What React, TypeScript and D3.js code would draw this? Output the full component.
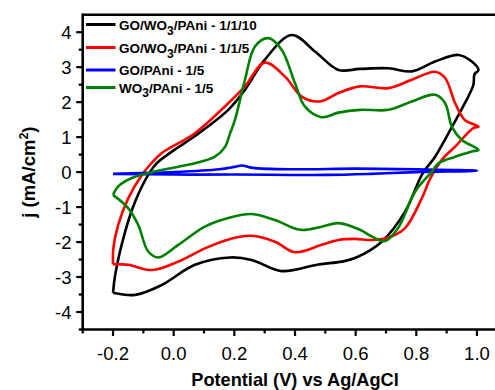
import React from "react";
import * as d3 from "d3";

// [potential (V), current density (mA/cm2)] along each closed CV loop
const loop1110: [number, number][] = [
  [-0.2, -3.45], [-0.193, -2.94], [-0.16, -1.7], [-0.127, -0.84], [-0.084, -0.08], [-0.056, 0.25],
  [0.0, 0.62], [0.07, 1.03], [0.18, 1.78], [0.235, 2.35], [0.3, 3.21], [0.389, 3.92], [0.466, 3.45],
  [0.543, 2.92], [0.614, 2.95], [0.708, 2.97], [0.785, 2.88], [0.862, 3.16], [0.939, 3.35], [0.983, 3.16],
  [1.005, 2.92], [0.992, 2.8], [0.988, 2.49], [0.96, 1.97], [0.906, 1.11], [0.862, 0.44], [0.82, -0.05],
  [0.763, -1.13], [0.686, -1.99], [0.6, -2.45], [0.554, -2.56], [0.477, -2.64], [0.356, -2.83],
  [0.257, -2.51], [0.186, -2.44], [0.07, -2.65], [-0.04, -3.23], [-0.127, -3.51], [-0.2, -3.45],
];
const loop115: [number, number][] = [
  [-0.2, -2.63], [-0.199, -2.18], [-0.183, -1.51], [-0.15, -0.75], [-0.105, -0.08], [-0.078, 0.21],
  [-0.04, 0.54], [0.07, 1.11], [0.18, 1.97], [0.235, 2.45], [0.3, 3.13], [0.367, 2.73], [0.422, 2.16],
  [0.482, 2.02], [0.543, 2.26], [0.614, 2.45], [0.708, 2.4], [0.785, 2.64], [0.862, 2.87], [0.895, 2.69],
  [0.928, 1.97], [0.96, 1.49], [1.005, 1.3], [0.988, 1.26], [0.928, 0.73], [0.884, 0.35], [0.845, -0.2],
  [0.818, -0.75], [0.763, -1.6], [0.708, -1.87], [0.653, -1.94], [0.598, -1.91], [0.543, -1.94],
  [0.488, -2.08], [0.4, -2.29], [0.334, -1.99], [0.257, -1.82], [0.186, -1.91], [0.103, -2.18],
  [0.015, -2.56], [-0.072, -2.8], [-0.15, -2.65], [-0.2, -2.63],
];
const loopGO: [number, number][] = [
  [-0.2, -0.05], [0.0, 0.0], [0.15, 0.08], [0.2, 0.15], [0.225, 0.19], [0.26, 0.12], [0.4, 0.08],
  [0.6, 0.1], [0.8, 0.08], [1.0, 0.04], [0.8, 0.0], [0.65, -0.05], [0.5, -0.08], [0.2, -0.07],
  [0.0, -0.07], [-0.2, -0.05],
];
const loopWO: [number, number][] = [
  [-0.2, -0.65], [-0.183, -0.41], [-0.138, -0.17], [-0.04, 0.06], [0.07, 0.25], [0.136, 0.44],
  [0.169, 0.72], [0.186, 1.11], [0.202, 1.49], [0.235, 2.64], [0.268, 3.59], [0.312, 3.83], [0.356, 3.5],
  [0.4, 2.54], [0.433, 1.87], [0.488, 1.57], [0.543, 1.7], [0.614, 1.78], [0.708, 1.78], [0.785, 2.02],
  [0.862, 2.21], [0.895, 1.97], [0.917, 1.3], [0.95, 0.92], [1.005, 0.64], [0.983, 0.59], [0.928, 0.44],
  [0.873, 0.25], [0.85, 0.0], [0.796, -0.56], [0.74, -1.6], [0.697, -1.97], [0.653, -1.84], [0.614, -1.65],
  [0.543, -1.46], [0.488, -1.56], [0.417, -1.65], [0.334, -1.37], [0.257, -1.2], [0.186, -1.3],
  [0.103, -1.56], [0.015, -2.08], [-0.05, -2.44], [-0.084, -2.27], [-0.117, -1.51], [-0.15, -1.03],
  [-0.2, -0.65],
];

const xTicks = [-0.2, 0.0, 0.2, 0.4, 0.6, 0.8, 1.0];
const xMinor = [-0.3, -0.1, 0.1, 0.3, 0.5, 0.7, 0.9];
const yTicks = [-4, -3, -2, -1, 0, 1, 2, 3, 4];
const yMinor = [-4.5, -3.5, -2.5, -1.5, -0.5, 0.5, 1.5, 2.5, 3.5];

const series = [
  { name: ["GO/WO", "3", "/PAni - 1/1/10"], color: "#000000", data: loop1110 },
  { name: ["GO/WO", "3", "/PAni - 1/1/5"], color: "#ff0000", data: loop115 },
  { name: ["GO/PAni - 1/5", "", ""], color: "#0000ff", data: loopGO },
  { name: ["WO", "3", "/PAni - 1/5"], color: "#008000", data: loopWO },
];

export default function App() {
  const W = 495, H = 390;
  const x = d3.scaleLinear().domain([-0.3, 1.1]).range([82.7, 507.3]);
  const y = d3.scaleLinear().domain([-4.5, 4.5]).range([329.5, 14.7]);
  const line = d3
    .line<[number, number]>()
    .x((d) => x(d[0]))
    .y((d) => y(d[1]))
    .curve(d3.curveCatmullRom.alpha(0.5));
  const font = "Arial, 'Liberation Sans', sans-serif";
  const x0 = x(-0.3), yb = y(-4.5), yt = y(4.5);
  const legendY = [24.5, 47.5, 70, 87.5];
  const legendTextY = [30, 53, 75, 92.5];
  return (
    <svg width={W} height={H} style={{ position: "absolute", left: 0, top: 0, background: "#fff" }} fontFamily={font}>
      <rect x={0} y={0} width={W} height={H} fill="#fff" />
      {series.map((s, i) => (
        <path key={i} d={line(s.data) || ""} fill="none" stroke={s.color} strokeWidth={2.6} strokeLinejoin="round" />
      ))}
      {/* axes */}
      <line x1={x0} x2={W + 20} y1={yt} y2={yt} stroke="#000" strokeWidth={2.6} />
      <line x1={x0 - 1.2} x2={W + 20} y1={yb} y2={yb} stroke="#000" strokeWidth={2.6} />
      <line x1={x0} x2={x0} y1={yt - 1.2} y2={yb + 1.2} stroke="#000" strokeWidth={2.6} />
      {xTicks.map((t) => (
        <g key={"xt" + t}>
          <line x1={x(t)} x2={x(t)} y1={yb} y2={yb + 6.5} stroke="#000" strokeWidth={2.2} />
          <text x={x(t)} y={360} textAnchor="middle" fontSize={18.5} fill="#000">
            {t.toFixed(1)}
          </text>
        </g>
      ))}
      {xMinor.map((t) => (
        <line key={"xm" + t} x1={x(t)} x2={x(t)} y1={yb} y2={yb + 4} stroke="#000" strokeWidth={2.2} />
      ))}
      {yTicks.map((t) => (
        <g key={"yt" + t}>
          <line x1={x0} x2={x0 - 6.5} y1={y(t)} y2={y(t)} stroke="#000" strokeWidth={2.2} />
          <text x={71.5} y={y(t) + 6.6} textAnchor="end" fontSize={18.5} fill="#000">
            {String(t)}
          </text>
        </g>
      ))}
      {yMinor.map((t) => (
        <line key={"ym" + t} x1={x0} x2={x0 - 4} y1={y(t)} y2={y(t)} stroke="#000" strokeWidth={2.2} />
      ))}
      {/* axis titles */}
      <text x={295} y={386} textAnchor="middle" fontSize={18.2} fontWeight="bold" fill="#000">
        Potential (V) vs Ag/AgCl
      </text>
      <text transform={`translate(35,${(yt + yb) / 2}) rotate(-90)`} textAnchor="middle" fontSize={18.5} fontWeight="bold" fill="#000">
        j (mA/cm<tspan dy={-7} fontSize={12.5}>2</tspan>
        <tspan dy={7}>)</tspan>
      </text>
      {/* legend */}
      {series.map((s, i) => (
        <g key={"lg" + i}>
          <line x1={86} x2={115.5} y1={legendY[i]} y2={legendY[i]} stroke={s.color} strokeWidth={3} />
          <text x={119} y={legendTextY[i]} fontSize={13.5} fontWeight="bold" fill="#000">
            {s.name[0]}
            {s.name[1] ? (
              <>
                <tspan dy={4.5} fontSize={12}>{s.name[1]}</tspan>
                <tspan dy={-4.5}>{s.name[2]}</tspan>
              </>
            ) : null}
          </text>
        </g>
      ))}
    </svg>
  );
}
